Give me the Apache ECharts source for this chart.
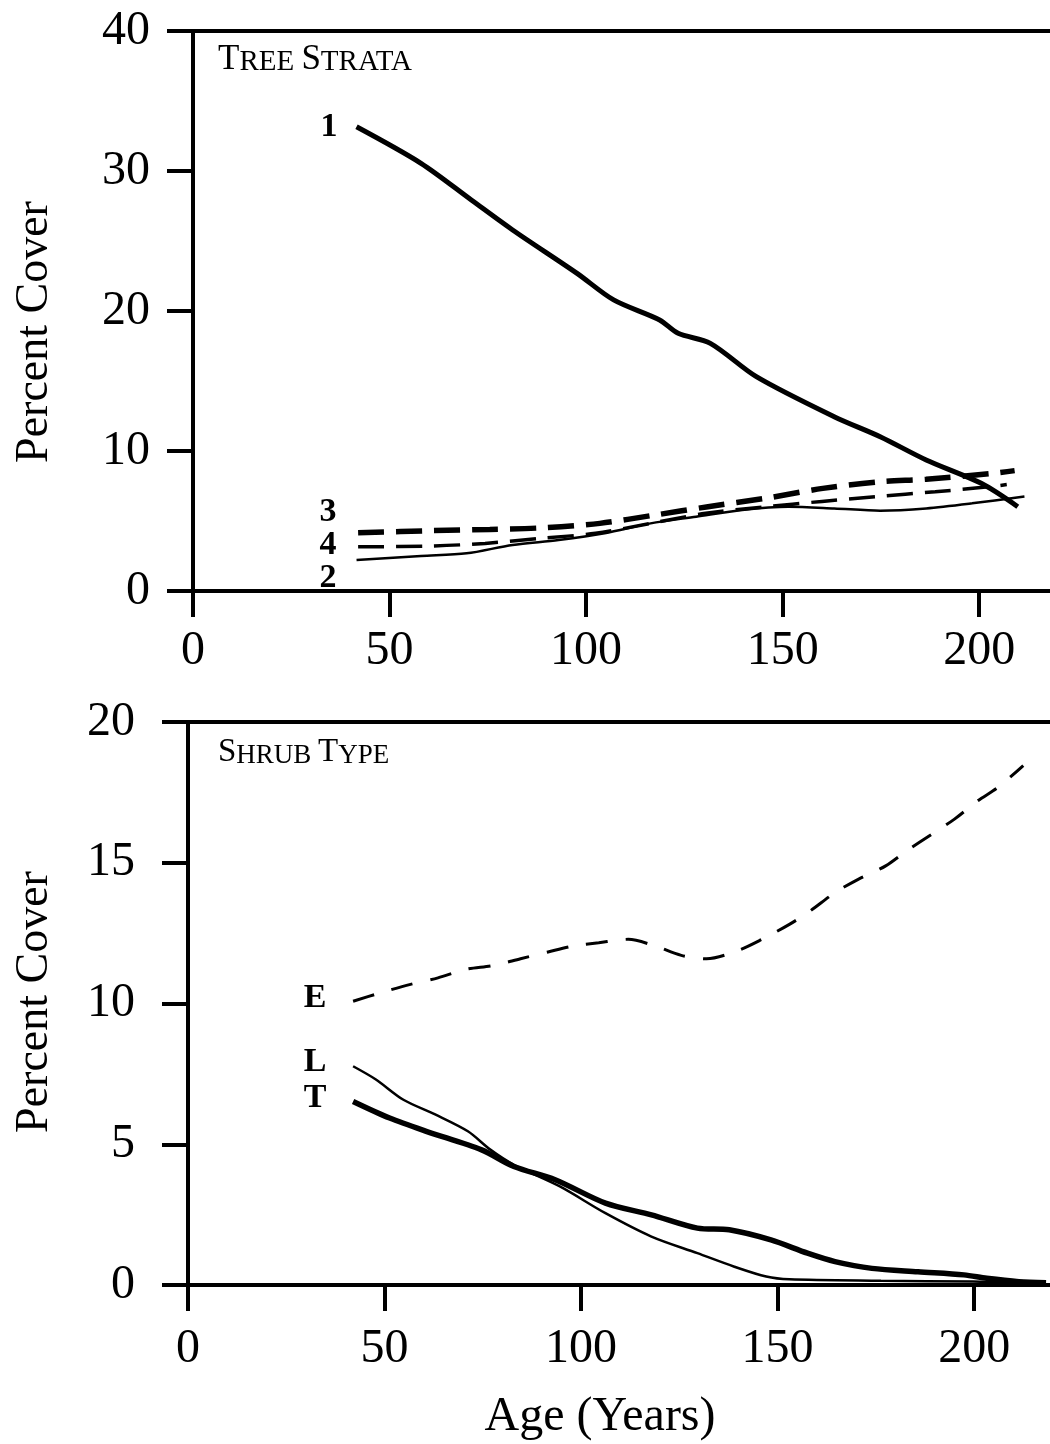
<!DOCTYPE html>
<html><head><meta charset="utf-8">
<script src="https://cdn.jsdelivr.net/npm/echarts@6/dist/echarts.min.js"></script>
<style>html,body{margin:0;padding:0;background:#fff}#c{width:1050px;height:1444px}</style>
</head><body><div id="c"></div>
<script>
// ---------- data ----------
const xTicks = [0, 50, 100, 150, 200];
const treeYTicks = [0, 10, 20, 30, 40];
const shrubYTicks = [0, 5, 10, 15, 20];

// Tree strata (age, percent cover)
const tree1 = [[41.6,33.16],[58,30.55],[70.8,27.93],[81.3,25.79],[97.7,22.69],[107,20.79],[118.7,19.36],[123.4,18.41],[131.6,17.69],[143.3,15.31],[163.1,12.45],[174.8,11.02],[186.5,9.36],[200.5,7.69],[209.8,6.02]];
const tree2 = [[41.6,2.21],[58,2.5],[69.6,2.69],[81.3,3.29],[93,3.64],[104.7,4.12],[116.4,4.83],[128,5.31],[139.7,5.79],[151.4,6.02],[163.1,5.9],[174.8,5.74],[186.5,5.9],[198.2,6.26],[211.5,6.75]];
const tree3 = [[42,4.16],[60.9,4.31],[75.5,4.4],[89.5,4.52],[103.5,4.83],[117.6,5.43],[131,6.02],[145.6,6.62],[160.2,7.33],[174.8,7.81],[186.5,7.98],[203.4,8.4],[209,8.6]];
const tree4 = [[42,3.16],[60.3,3.21],[74.3,3.4],[88.3,3.76],[102.4,4.12],[116.4,4.83],[130.4,5.55],[145,6.0],[160,6.4],[173.6,6.74],[188.8,7.09],[202.8,7.45],[207,7.6]];

// Shrub types
const shrubE = [[42,10.08],[49,10.38],[56.6,10.68],[63.6,10.91],[70.6,11.21],[77.6,11.35],[84.6,11.59],[91.6,11.83],[98,12.04],[104.5,12.16],[112,12.28],[118.5,12.06],[125.5,11.71],[131.9,11.59],[139.5,11.86],[146,12.28],[153,12.81],[158.2,13.28],[164.6,13.94],[170.5,14.41],[177.5,14.89],[182.8,15.42],[189.2,16.01],[195,16.55],[200.9,17.2],[206.1,17.68],[212.5,18.45]];
const shrubL = [[42,7.77],[47.8,7.3],[54.8,6.58],[63,6.05],[71.2,5.46],[77,4.8],[82.9,4.27],[94.6,3.5],[106.2,2.55],[117.9,1.72],[129.6,1.13],[139,0.65],[147.1,0.3],[153,0.2],[176.3,0.15],[199.7,0.12],[218,0.05]];
const shrubT = [[42,6.52],[51.3,5.93],[60.6,5.46],[74.7,4.8],[82.9,4.21],[93.4,3.74],[106.2,2.91],[117.9,2.49],[129.6,2.02],[137.7,1.96],[148.3,1.6],[157.6,1.13],[164.6,0.83],[174,0.59],[185.7,0.47],[197.4,0.36],[203.2,0.24],[211.4,0.12],[218.3,0.08]];

// ---------- chart ----------
const FONT = "'Liberation Serif','Times New Roman',serif";
const chart = echarts.init(document.getElementById('c'), null, {renderer: 'canvas'});
const axisLine = {show: true, lineStyle: {color: '#000', width: 4}};
const axisTick = {show: true, inside: false, length: 26, lineStyle: {color: '#000', width: 4}};
const lbl = {color: '#000', fontFamily: FONT, fontSize: 48};

function xAxisFor(grid, max, margin) {
  return [{
    type: 'value', gridIndex: grid, min: 0, max: max, interval: 50, position: 'bottom',
    axisLine: axisLine,
    axisTick: Object.assign({customValues: xTicks}, axisTick),
    axisLabel: Object.assign({customValues: xTicks, margin: margin}, lbl),
    splitLine: {show: false}
  }, {
    type: 'value', gridIndex: grid, min: 0, max: max, position: 'top',
    axisLine: axisLine, axisTick: {show: false}, axisLabel: {show: false}, splitLine: {show: false}
  }];
}
function yAxisFor(grid, max, interval, ticks, margin) {
  return {
    type: 'value', gridIndex: grid, min: 0, max: max, interval: interval,
    axisLine: axisLine,
    axisTick: Object.assign({customValues: ticks}, axisTick),
    axisLabel: Object.assign({customValues: ticks, margin: margin}, lbl),
    splitLine: {show: false}
  };
}
function line(data, xi, yi, width, type) {
  return {
    type: 'line', data: data, xAxisIndex: xi, yAxisIndex: yi, smooth: 0.3,
    symbol: 'none', silent: true,
    lineStyle: {color: '#000', width: width, type: type || 'solid', cap: 'butt'}
  };
}

const serifBold = 'bold 34px ' + FONT;
function txt(t, x, y, font, rot) {
  return {type: 'text', x: x, y: y, rotation: rot || 0,
    style: {text: t, font: font, fill: '#000', textAlign: 'center', textVerticalAlign: 'middle'}};
}
function rich(big, small, lh) {
  return {
    a: {fontFamily: FONT, fontSize: big, fontWeight: 'normal', color: '#000', verticalAlign: 'bottom', lineHeight: lh},
    b: {fontFamily: FONT, fontSize: small, fontWeight: 'normal', color: '#000', verticalAlign: 'bottom', lineHeight: lh}
  };
}

const option = {
  animation: false,
  backgroundColor: '#fff',
  title: [{
    text: '{a|T}{b|REE}{b| }{a|S}{b|TRATA}', left: 218, top: 42, padding: 0,
    textStyle: {fontWeight: 'normal', rich: rich(35, 29, 35)}
  }, {
    text: '{a|S}{b|HRUB}{b| }{a|T}{b|YPE}', left: 218, top: 736, padding: 0,
    textStyle: {fontWeight: 'normal', rich: rich(33, 27, 33)}
  }],
  grid: [
    {left: 193, top: 31, width: 857, height: 560},
    {left: 188, top: 722, width: 862, height: 563}
  ],
  xAxis: [].concat(xAxisFor(0, 218, 36), xAxisFor(1, 219.3, 40)),
  yAxis: [yAxisFor(0, 40, 10, treeYTicks, 43), yAxisFor(1, 20, 5, shrubYTicks, 53)],
  series: [
    line(tree1, 0, 0, 5),
    line(tree2, 0, 0, 2.5),
    line(tree3, 0, 0, 5.5, [26, 12]),
    line(tree4, 0, 0, 3.5, [26, 12]),
    line(shrubE, 2, 1, 3, [22, 18]),
    line(shrubL, 2, 1, 2.5),
    line(shrubT, 2, 1, 5.5)
  ],
  graphic: [
    txt('1', 329, 127, serifBold),
    txt('3', 328, 512, serifBold),
    txt('4', 328, 545, serifBold),
    txt('2', 328, 578, serifBold),
    txt('E', 315, 998, serifBold),
    txt('L', 315, 1062, serifBold),
    txt('T', 315, 1098, serifBold),
    txt('Percent Cover', 35, 332, '46px ' + FONT, Math.PI / 2),
    txt('Percent Cover', 35, 1002, '46px ' + FONT, Math.PI / 2),
    txt('Age (Years)', 600, 1417, '48px ' + FONT)
  ]
};
chart.setOption(option);
</script>
</body></html>
